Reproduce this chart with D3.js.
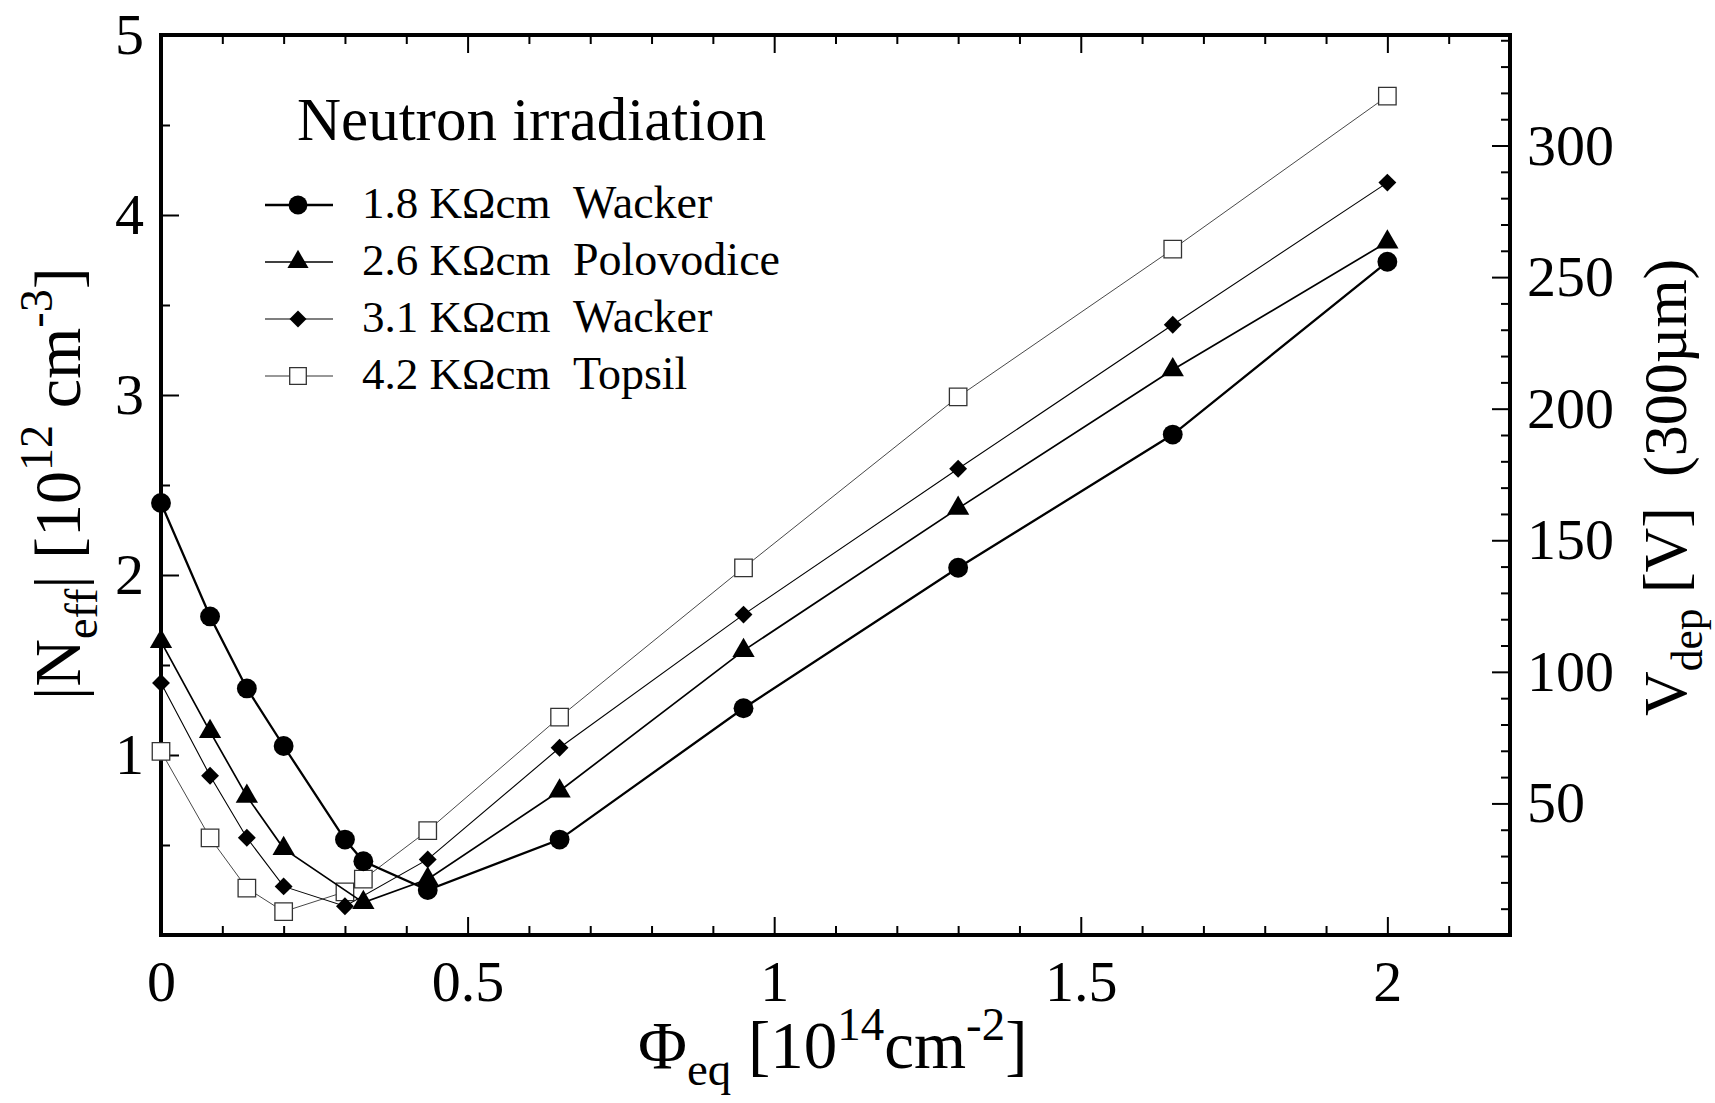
<!DOCTYPE html>
<html>
<head>
<meta charset="utf-8">
<script src="https://cdn.jsdelivr.net/npm/d3@7"></script>
<style>
  body { margin: 0; background: #fff; }
  svg text { font-family: "Liberation Serif", "Times New Roman", serif; fill: #000; }
</style>
</head>
<body>
<div id="chart"></div>
<script>
// fluence values (10^14 cm^-2) for each sample
var fluenceCircle   = [0, 0.08, 0.14, 0.2, 0.3, 0.33, 0.435, 0.65, 0.95, 1.3, 1.65, 2.0];
var fluenceTriangle = [0, 0.08, 0.14, 0.2, 0.33, 0.435, 0.65, 0.95, 1.3, 1.65, 2.0];
var fluenceDiamond  = [0, 0.08, 0.14, 0.2, 0.3, 0.435, 0.65, 0.95, 1.3, 1.65, 2.0];
var fluenceSquare   = [0, 0.08, 0.14, 0.2, 0.3, 0.33, 0.435, 0.65, 0.95, 1.3, 1.65, 2.0];

// |Neff| values (10^12 cm^-3)
var neffCircle   = [2.40, 1.77, 1.37, 1.05, 0.53, 0.41, 0.25, 0.53, 1.26, 2.04, 2.78, 3.74];
var neffTriangle = [1.63, 1.13, 0.77, 0.48, 0.18, 0.31, 0.80, 1.58, 2.37, 3.14, 3.85];
var neffDiamond  = [1.40, 0.885, 0.54, 0.27, 0.16, 0.42, 1.04, 1.78, 2.59, 3.39, 4.18];
var neffSquare   = [1.02, 0.54, 0.26, 0.13, 0.24, 0.31, 0.58, 1.21, 2.04, 2.99, 3.81, 4.66];

var seriesNames = ['1.8 K\u03A9cm', '2.6 K\u03A9cm', '3.1 K\u03A9cm', '4.2 K\u03A9cm'];
var seriesMakers = ['Wacker', 'Polovodice', 'Wacker', 'Topsil'];

// tick values
var xMajorTicks = [0, 0.5, 1, 1.5, 2];
var yMajorTicks = [1, 2, 3, 4, 5];
var vMajorTicks = [50, 100, 150, 200, 250, 300];

var voltsPerNeff = 68.4; // Vdep for 300um per 10^12 cm^-3

var width = 1715, height = 1103;
var margin = {top: 35, right: 205, bottom: 170, left: 161};

var svg = d3.select('#chart').append('svg')
  .attr('width', width)
  .attr('height', height);

var x = d3.scaleLinear().domain([0, 2.2]).range([margin.left, width - margin.right]);
var y = d3.scaleLinear().domain([0, 5]).range([height - margin.bottom + 2, margin.top]);
var v = d3.scaleLinear().domain([0, 5 * voltsPerNeff]).range(y.range());

var plotLeft = x.range()[0], plotRight = x.range()[1];
var plotTop = margin.top, plotBottom = y(0);

// minor ticks
var xMinor = d3.range(1, 22).map(function(i) { return i / 10; })
  .filter(function(d) { return Math.abs(d * 2 - Math.round(d * 2)) > 1e-6; });
var yMinor = [0.5, 1.5, 2.5, 3.5, 4.5];
var vMinor = d3.range(10, 341, 10).filter(function(d) { return d % 50 !== 0; });

function styleAxis(g, size) {
  g.select('.domain').remove();
  g.selectAll('line').attr('stroke', '#000').attr('stroke-width', 2);
  g.selectAll('text').style('font-size', size + 'px');
}

// bottom axis
svg.append('g').attr('transform', 'translate(0,' + plotBottom + ')')
  .call(d3.axisBottom(x).tickValues(xMinor).tickSize(-9).tickFormat(''))
  .call(styleAxis, 58);
svg.append('g').attr('transform', 'translate(0,' + plotBottom + ')')
  .call(d3.axisBottom(x).tickValues(xMajorTicks).tickSize(-18).tickPadding(25).tickFormat(d3.format('')))
  .call(styleAxis, 58);

// top axis (mirrored ticks)
svg.append('g').attr('transform', 'translate(0,' + plotTop + ')')
  .call(d3.axisTop(x).tickValues(xMinor).tickSize(-9).tickFormat(''))
  .call(styleAxis, 58);
svg.append('g').attr('transform', 'translate(0,' + plotTop + ')')
  .call(d3.axisTop(x).tickValues(xMajorTicks).tickSize(-18).tickFormat(''))
  .call(styleAxis, 58);

// left axis
svg.append('g').attr('transform', 'translate(' + plotLeft + ',0)')
  .call(d3.axisLeft(y).tickValues(yMinor).tickSize(-9).tickFormat(''))
  .call(styleAxis, 58);
svg.append('g').attr('transform', 'translate(' + plotLeft + ',0)')
  .call(d3.axisLeft(y).tickValues(yMajorTicks).tickSize(-18).tickPadding(17).tickFormat(d3.format('')))
  .call(styleAxis, 58);

// right axis (depletion voltage)
svg.append('g').attr('transform', 'translate(' + plotRight + ',0)')
  .call(d3.axisRight(v).tickValues(vMinor).tickSize(-9).tickFormat(''))
  .call(styleAxis, 58);
svg.append('g').attr('transform', 'translate(' + plotRight + ',0)')
  .call(d3.axisRight(v).tickValues(vMajorTicks).tickSize(-18).tickPadding(17).tickFormat(d3.format('')))
  .call(styleAxis, 58);

// frame
svg.append('rect')
  .attr('x', plotLeft).attr('y', plotTop)
  .attr('width', plotRight - plotLeft).attr('height', plotBottom - plotTop)
  .attr('fill', 'none').attr('stroke', '#000').attr('stroke-width', 4);

// rich text helper: parts with optional sub / sup
function richText(sel, parts, size) {
  var shift = 0;
  parts.forEach(function(p) {
    var target = p.sub ? size * 0.26 : (p.sup ? -size * 0.42 : 0);
    sel.append('tspan')
      .attr('dy', target - shift)
      .style('font-size', (p.sub || p.sup ? size * 0.7 : size) + 'px')
      .attr('dx', p.dx || 0)
      .text(p.t);
    shift = target;
  });
}

// axis titles
var xTitle = svg.append('text').attr('x', 638).attr('y', 1068).attr('xml:space', 'preserve');
richText(xTitle, [{t: '\u03A6'}, {t: 'eq', sub: true}, {t: ' [10'}, {t: '14', sup: true}, {t: 'cm'}, {t: '-2', sup: true}, {t: ']'}], 67);

var yTitle = svg.append('text').attr('transform', 'translate(80,700) rotate(-90)').attr('xml:space', 'preserve');
richText(yTitle, [{t: '|N'}, {t: 'eff', sub: true}, {t: '| [10'}, {t: '12', sup: true}, {t: ' cm'}, {t: '-3', sup: true}, {t: ']'}], 66);

var vTitle = svg.append('text').attr('transform', 'translate(1686,716) rotate(-90)').attr('xml:space', 'preserve');
richText(vTitle, [{t: 'V'}, {t: 'dep', sub: true}, {t: ' [V]'}, {t: '(300\u00B5m)', dx: 30}], 62);

// series definitions
var series = [
  {xs: fluenceSquare, ys: neffSquare, symbol: d3.symbolSquare, size: 306, rotate: 0, fill: '#fff', stroke: '#333', sw: 1.3, lw: 0.9, lc: '#333'},
  {xs: fluenceDiamond, ys: neffDiamond, symbol: d3.symbolSquare, size: 160, rotate: 45, fill: '#000', stroke: '#000', sw: 0, lw: 1.1, lc: '#000'},
  {xs: fluenceTriangle, ys: neffTriangle, symbol: d3.symbolTriangle, size: 215, rotate: 0, fill: '#000', stroke: '#000', sw: 0, lw: 1.7, lc: '#000'},
  {xs: fluenceCircle, ys: neffCircle, symbol: d3.symbolCircle, size: 310, rotate: 0, fill: '#000', stroke: '#000', sw: 0, lw: 2.3, lc: '#000'}
];

var line = d3.line()
  .x(function(d) { return x(d[0]); })
  .y(function(d) { return y(d[1]); });

series.forEach(function(s) {
  var pts = s.xs.map(function(xv, i) { return [xv, s.ys[i]]; });
  svg.append('path')
    .datum(pts)
    .attr('d', line)
    .attr('fill', 'none')
    .attr('stroke', s.lc)
    .attr('stroke-width', s.lw);
  svg.append('g').selectAll('path')
    .data(pts)
    .enter().append('path')
    .attr('d', d3.symbol().type(s.symbol).size(s.size))
    .attr('transform', function(d) { return 'translate(' + x(d[0]) + ',' + y(d[1]) + ') rotate(' + s.rotate + ')'; })
    .attr('fill', s.fill)
    .attr('stroke', s.stroke)
    .attr('stroke-width', s.sw);
});

// legend
svg.append('text').attr('x', 297).attr('y', 140).style('font-size', '61px').text('Neutron irradiation');

var legendOrder = [3, 2, 1, 0]; // circle, triangle, diamond, square
legendOrder.forEach(function(si, i) {
  var s = series[si];
  var cy = 205 + i * 57;
  var g = svg.append('g');
  g.append('line').attr('x1', 265).attr('x2', 333).attr('y1', cy).attr('y2', cy)
    .attr('stroke', s.lc).attr('stroke-width', Math.max(s.lw, 1.2));
  g.append('path')
    .attr('d', d3.symbol().type(s.symbol).size(s.size * 0.9))
    .attr('transform', 'translate(298,' + cy + ') rotate(' + s.rotate + ')')
    .attr('fill', s.fill).attr('stroke', s.stroke).attr('stroke-width', s.sw);
  g.append('text').attr('x', 362).attr('y', cy + 13).style('font-size', '45px').text(seriesNames[i]);
  g.append('text').attr('x', 573).attr('y', cy + 13).style('font-size', '46px').text(seriesMakers[i]);
});
</script>
</body>
</html>
